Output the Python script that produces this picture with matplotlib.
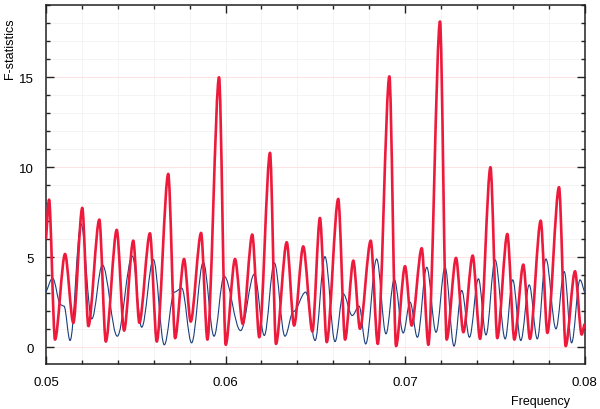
import matplotlib
matplotlib.use('Agg')
import matplotlib.pyplot as plt
from matplotlib.path import Path
from matplotlib.patches import PathPatch
from matplotlib.ticker import MultipleLocator

plt.rcParams.update({
    'font.family': ['Liberation Sans', 'DejaVu Sans'], 'font.size': 9,
    'figure.facecolor': 'white',
})

# F-statistics, red curve (read at peaks / troughs)
freq_red = [0.05000, 0.05017, 0.05050, 0.05106, 0.05152, 0.05202, 0.05236, 0.05297,
            0.05333, 0.05394, 0.05435, 0.05486, 0.05520, 0.05579, 0.05617, 0.05681,
            0.05719, 0.05769, 0.05806, 0.05864, 0.05899, 0.05964, 0.06001, 0.06053,
            0.06096, 0.06149, 0.06188, 0.06248, 0.06281, 0.06341, 0.06382, 0.06433,
            0.06484, 0.06526, 0.06564, 0.06628, 0.06666, 0.06712, 0.06749, 0.06809,
            0.06848, 0.06913, 0.06950, 0.07000, 0.07037, 0.07093, 0.07130, 0.07195,
            0.07232, 0.07284, 0.07325, 0.07377, 0.07418, 0.07476, 0.07514, 0.07570,
            0.07609, 0.07659, 0.07696, 0.07756, 0.07793, 0.07858, 0.07895, 0.07947,
            0.07984, 0.08000]
fstat_red = [6.0, 8.2, 0.42, 5.18, 1.35, 7.74, 1.17, 7.09,
             0.31, 6.52, 0.92, 5.92, 1.35, 6.33, 0.31, 9.63,
             0.50, 4.90, 1.42, 6.35, 0.42, 15.0, 0.13, 4.90,
             1.29, 6.26, 0.55, 10.8, 0.18, 5.83, 1.20, 5.60,
             0.87, 7.18, 0.28, 8.24, 0.42, 4.81, 1.02, 5.92,
             0.18, 15.05, 0.06, 4.50, 1.20, 5.50, 0.13, 18.1,
             0.42, 4.96, 0.83, 5.09, 0.46, 10.0, 0.50, 6.29,
             0.42, 4.59, 0.46, 7.03, 0.79, 8.89, 0.06, 4.22,
             0.70, 1.30]

# blue curve
freq_blue = [0.05000, 0.05037, 0.05082, 0.05100, 0.05134, 0.05195, 0.05255, 0.05314,
             0.05397, 0.05481, 0.05533, 0.05598, 0.05659, 0.05715, 0.05756, 0.05811,
             0.05876, 0.05936, 0.05992, 0.06084, 0.06161, 0.06216, 0.06272, 0.06331,
             0.06378, 0.06447, 0.06499, 0.06554, 0.06610, 0.06656, 0.06706, 0.06744,
             0.06781, 0.06842, 0.06894, 0.06940, 0.06990, 0.07028, 0.07069, 0.07121,
             0.07173, 0.07223, 0.07273, 0.07316, 0.07359, 0.07409, 0.07451, 0.07502,
             0.07558, 0.07600, 0.07645, 0.07692, 0.07737, 0.07785, 0.07841, 0.07887,
             0.07928, 0.07975, 0.08000]
fstat_blue = [3.06, 3.83, 2.35, 2.28, 0.37, 6.85, 1.57, 4.57,
              0.61, 5.06, 1.11, 4.87, 0.13, 3.06, 3.28, 0.24,
              4.72, 0.61, 3.94, 0.92, 4.06, 0.65, 4.68, 0.61,
              1.98, 3.06, 0.37, 5.03, 0.31, 2.96, 1.76, 2.28,
              0.18, 4.90, 0.74, 3.76, 0.79, 2.50, 0.55, 4.44,
              0.83, 4.44, 0.06, 3.15, 0.55, 3.80, 0.68, 4.85,
              0.46, 3.74, 0.37, 3.46, 0.46, 4.90, 1.02, 4.20,
              0.24, 3.74, 3.06]


def smooth_path(xs, ys, k=0.36):
    # cubic segments through the read extrema, flat tangent at each one
    verts = [(xs[0], ys[0])]
    codes = [Path.MOVETO]
    n = len(xs)
    for i in range(n - 1):
        x0, y0, x1, y1 = xs[i], ys[i], xs[i + 1], ys[i + 1]
        d = (x1 - x0) * k
        c1 = (x0 + d, y0) if i > 0 else (x0 + d, y0 + (y1 - y0) * k)
        c2 = (x1 - d, y1) if i < n - 2 else (x1 - d, y1 - (y1 - y0) * k)
        verts += [c1, c2, (x1, y1)]
        codes += [Path.CURVE4] * 3
    return Path(verts, codes)


fig = plt.figure(figsize=(6, 4.1), dpi=100)
ax = fig.add_axes([0.0767, 0.110, 0.8975, 0.8756])

ax.add_patch(PathPatch(smooth_path(freq_blue, fstat_blue), fill=False,
                       ec='#1b3f7e', lw=0.8, zorder=3))
ax.add_patch(PathPatch(smooth_path(freq_red, fstat_red, k=0.3), fill=False,
                       ec='#ee1a3c', lw=1.9, zorder=4, joinstyle='round'))

ax.set_xlim(0.05, 0.08)
ax.set_ylim(-0.93, 19.02)
ax.set_xticks([0.05, 0.06, 0.07, 0.08])
ax.set_xticklabels(['0.05', '0.06', '0.07', '0.08'])
ax.xaxis.set_minor_locator(MultipleLocator(0.002))
ax.yaxis.set_major_locator(MultipleLocator(5))
ax.yaxis.set_minor_locator(MultipleLocator(1))

ax.grid(which='minor', color='#f3f3f3', lw=0.6, zorder=0)
ax.grid(which='major', axis='x', color='#f0f0f0', lw=0.6, zorder=0)
ax.grid(which='major', axis='y', color='#ffe2e2', lw=0.8, zorder=0)
ax.set_axisbelow(True)

ax.tick_params(which='both', direction='in', top=True, right=True,
               color='#222222', width=1.0)
ax.tick_params(which='major', length=6, pad=9, labelsize=9.5)
ax.tick_params(which='minor', length=3)
for s in ax.spines.values():
    s.set_linewidth(1.1)
    s.set_color('#222222')

fig.text(10 / 600, 1 - 49 / 410, 'F-statistics', rotation=90, ha='center', va='center', fontsize=9)
fig.text(541 / 600, 1 - 402 / 410, 'Frequency', ha='center', va='center', fontsize=9)

fig.savefig('out.png', dpi=100)
